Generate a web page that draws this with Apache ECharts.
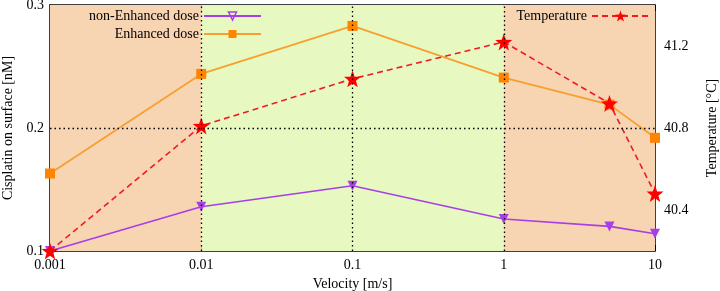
<!DOCTYPE html>
<html>
<head>
<meta charset="utf-8">
<script src="https://cdn.jsdelivr.net/npm/echarts@6/dist/echarts.min.js"></script>
<style>
  html, body { margin: 0; padding: 0; background: #fff; }
  #chart { width: 720px; height: 291px; }
</style>
</head>
<body>
<div id="chart"></div>
<script>
// data
var velocity = [0.001, 0.01, 0.1, 1, 5, 10];
var nonEnhanced = [0.100, 0.136, 0.153, 0.126, 0.120, 0.114];
var enhanced = [0.163, 0.244, 0.283, 0.241, 0.219, 0.192];
var temperature = [40.20, 40.81, 41.04, 41.22, 40.92, 40.48];
var leftTicks = [0.1, 0.2, 0.3];
var rightTicks = [40.4, 40.8, 41.2];
var decades = [0.001, 0.01, 0.1, 1, 10];
var minorTicks = [0.002, 0.003, 0.004, 0.005, 0.006, 0.007, 0.008, 0.009,
  0.02, 0.03, 0.04, 0.05, 0.06, 0.07, 0.08, 0.09,
  0.2, 0.3, 0.4, 0.5, 0.6, 0.7, 0.8, 0.9,
  2, 3, 4, 5, 6, 7, 8, 9];
var innerDecades = [0.01, 0.1, 1];   // dotted grid columns
var innerLevels = [0.2];             // dotted grid rows

var font = 'Liberation Serif';
var starPath = 'path://M0,-10L2.35,-3.24L9.51,-3.09L3.8,1.24L5.88,8.09L0,4L-5.88,8.09L-3.8,1.24L-9.51,-3.09L-2.35,-3.24Z';

function pairs(xs, ys) {
  return xs.map(function (x, i) { return [x, ys[i]]; });
}

var chart = echarts.init(document.getElementById('chart'), null, {renderer: 'canvas'});

var xBase = {
  type: 'log', logBase: 10, min: 0.001, max: 10,
  splitLine: {show: false}, axisLabel: {show: false},
  axisLine: {show: false}, axisPointer: {show: false}
};

var gridLine = {color: '#000', type: [1.5, 3], width: 1.3};

var option = {
  animation: false,
  textStyle: {fontFamily: font},
  grid: {left: 50, right: 65, top: 5, bottom: 40, outerBoundsMode: 'none', containLabel: false},
  legend: [
    {
      data: ['non-Enhanced dose'], right: 458, top: 9, padding: 0,
      align: 'right', itemWidth: 57, itemHeight: 10,
      textStyle: {fontFamily: font, fontSize: 14, color: '#000'},
      itemStyle: {color: 'rgba(0,0,0,0)', borderColor: '#a83ee8', borderWidth: 1.5}
    },
    {
      data: ['Enhanced dose'], right: 458, top: 27, padding: 0,
      align: 'right', itemWidth: 57, itemHeight: 10,
      textStyle: {fontFamily: font, fontSize: 14, color: '#000'}
    },
    {
      data: ['Temperature'], right: 70, top: 9, padding: 0,
      align: 'right', itemWidth: 57, itemHeight: 14,
      textStyle: {fontFamily: font, fontSize: 14, color: '#000'}
    }
  ],
  xAxis: [
    {
      type: 'log', logBase: 10, min: 0.001, max: 10, position: 'bottom',
      name: 'Velocity [m/s]', nameLocation: 'middle', nameGap: 25,
      nameTextStyle: {fontFamily: font, fontSize: 14, color: '#000'},
      axisLine: {lineStyle: {color: '#000', width: 1.5}},
      axisTick: {inside: true, length: 6, lineStyle: {color: '#000'}},
      axisLabel: {
        fontFamily: font, fontSize: 14, color: '#000', margin: 7,
        formatter: function (v) { return String(+v.toPrecision(6)); }
      },
      splitLine: {show: false}
    },
    Object.assign({}, xBase, {
      position: 'bottom',
      axisTick: {inside: true, length: 3, customValues: minorTicks, lineStyle: {color: '#000'}}
    }),
    Object.assign({}, xBase, {
      position: 'top',
      axisLine: {show: true, lineStyle: {color: '#000', width: 1.5}},
      axisTick: {inside: true, length: 6, customValues: decades, lineStyle: {color: '#000'}}
    }),
    Object.assign({}, xBase, {
      position: 'top',
      axisTick: {inside: true, length: 3, customValues: minorTicks, lineStyle: {color: '#000'}}
    })
  ],
  yAxis: [
    {
      type: 'value', min: 0.1, max: 0.3, interval: 0.1, position: 'left',
      name: 'Cisplatin on surface [nM]', nameLocation: 'middle', nameGap: 34,
      nameTextStyle: {fontFamily: font, fontSize: 14, color: '#000'},
      axisLine: {show: true, lineStyle: {color: '#000', width: 1.5}},
      axisTick: {show: true, inside: true, length: 6, lineStyle: {color: '#000'}},
      axisLabel: {
        fontFamily: font, fontSize: 14, color: '#000', margin: 6,
        customValues: leftTicks,
        formatter: function (v) { return v.toFixed(1); }
      },
      splitLine: {show: false}
    },
    {
      type: 'value', min: 40.2, max: 41.4, position: 'right',
      name: 'Temperature [°C]', nameLocation: 'middle', nameGap: 50,
      nameTextStyle: {fontFamily: font, fontSize: 14, color: '#000'},
      axisLine: {show: true, lineStyle: {color: '#000', width: 1.5}},
      axisTick: {show: true, inside: true, length: 6, customValues: rightTicks, lineStyle: {color: '#000'}},
      axisLabel: {
        fontFamily: font, fontSize: 14, color: '#000', margin: 9,
        customValues: rightTicks,
        formatter: function (v) { return v.toFixed(1); }
      },
      splitLine: {show: false}
    }
  ],
  series: [
    {
      // background bands and dotted grid
      name: 'bands', type: 'line', data: [], z: 1, silent: true,
      markArea: {
        silent: true,
        data: [
          [{xAxis: 0.001, itemStyle: {color: '#f7d4b2'}}, {xAxis: 0.01}],
          [{xAxis: 0.01, itemStyle: {color: '#e7f9c0'}}, {xAxis: 1}],
          [{xAxis: 1, itemStyle: {color: '#f7d4b2'}}, {xAxis: 10}]
        ]
      },
      markLine: {
        silent: true, symbol: 'none', label: {show: false},
        lineStyle: gridLine,
        data: innerDecades.map(function (v) { return {xAxis: v}; })
          .concat(innerLevels.map(function (v) { return {yAxis: v}; }))
      }
    },
    {
      name: 'non-Enhanced dose', type: 'line', clip: false, z: 3,
      data: pairs(velocity, nonEnhanced),
      symbol: 'triangle', symbolRotate: 180, symbolSize: 10,
      lineStyle: {color: '#a83ee8', width: 1.6},
      itemStyle: {color: '#a83ee8'}
    },
    {
      name: 'Enhanced dose', type: 'line', clip: false, z: 3,
      data: pairs(velocity, enhanced),
      symbol: 'rect', symbolSize: 10,
      lineStyle: {color: '#f7a030', width: 1.8},
      itemStyle: {color: '#ff8400'}
    },
    {
      name: 'Temperature', type: 'line', clip: false, yAxisIndex: 1, z: 4,
      data: pairs(velocity, temperature),
      symbol: starPath, symbolSize: 17,
      lineStyle: {color: '#ee1c25', width: 1.6, type: [6, 4]},
      itemStyle: {color: '#ff0000'}
    }
  ]
};

chart.setOption(option);
</script>
</body>
</html>
